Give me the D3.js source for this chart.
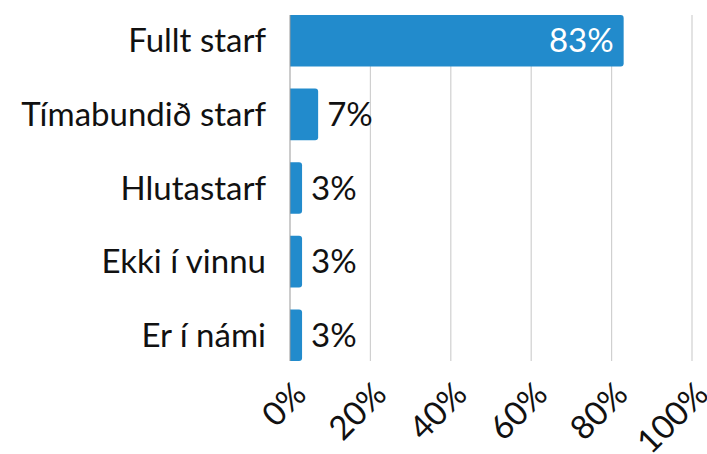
<!DOCTYPE html>
<html><head><meta charset="utf-8">
<script src="https://cdn.jsdelivr.net/npm/d3@7"></script>
<style>body{margin:0;background:#fff}svg{display:block}</style>
</head><body><svg id="c" width="707" height="454"></svg>
<script>
const categories = ["Fullt starf","Tímabundið starf","Hlutastarf","Ekki í vinnu","Er í námi"];
const values = [83,7,3,3,3];
const ticks = [0,20,40,60,80,100];

const svg = d3.select("#c");
const font = "Lato, 'Noto Sans', sans-serif";
const fs = 33;
const x = d3.scaleLinear().domain([0,100]).range([290,692]);
const y = d3.scaleBand().domain(categories).range([15,361]).paddingInner(0.3).paddingOuter(0);

// gridlines
svg.append("g").selectAll("line").data(ticks.slice(1)).join("line")
  .attr("x1",d=>x(d)).attr("x2",d=>x(d)).attr("y1",15).attr("y2",361)
  .attr("stroke","#d0d0d0").attr("stroke-width",1.2);

// bars with right rounded corners
const r = 3;
svg.append("g").selectAll("path").data(values).join("path")
  .attr("d",(d,i)=>{
    const x0=x(0), x1=x(d), y0=y(categories[i]), h=y.bandwidth();
    return `M${x0},${y0}H${x1-r}Q${x1},${y0} ${x1},${y0+r}V${y0+h-r}Q${x1},${y0+h} ${x1-r},${y0+h}H${x0}Z`;
  })
  .attr("fill","#228bcc");

// axis line
svg.append("line").attr("x1",x(0)).attr("x2",x(0)).attr("y1",15).attr("y2",361)
  .attr("stroke","#999").attr("stroke-width",1);

// category labels
svg.append("g").selectAll("text").data(categories).join("text")
  .attr("x",266).attr("y",d=>y(d)+y.bandwidth()/2)
  .attr("dy","0.35em").attr("text-anchor","end")
  .attr("font-family",font).attr("font-size",fs).attr("fill","#111")
  .text(d=>d);

// value labels
svg.append("g").selectAll("text").data(values).join("text")
  .attr("x",d=> d>20 ? x(d)-10 : x(d)+9)
  .attr("y",(d,i)=>y(categories[i])+y.bandwidth()/2)
  .attr("dy","0.35em")
  .attr("text-anchor",d=> d>20 ? "end":"start")
  .attr("font-family",font).attr("font-size",fs)
  .attr("fill",d=> d>20 ? "#fff":"#111")
  .text(d=>d+"%");

// x tick labels rotated
svg.append("g").selectAll("text").data(ticks).join("text")
  .attr("transform",d=>`translate(${x(d)+10},${388}) rotate(-45)`)
  .attr("text-anchor","end").attr("dy","0.35em")
  .attr("font-family",font).attr("font-size",fs).attr("fill","#111")
  .text(d=>d+"%");
</script></body></html>
